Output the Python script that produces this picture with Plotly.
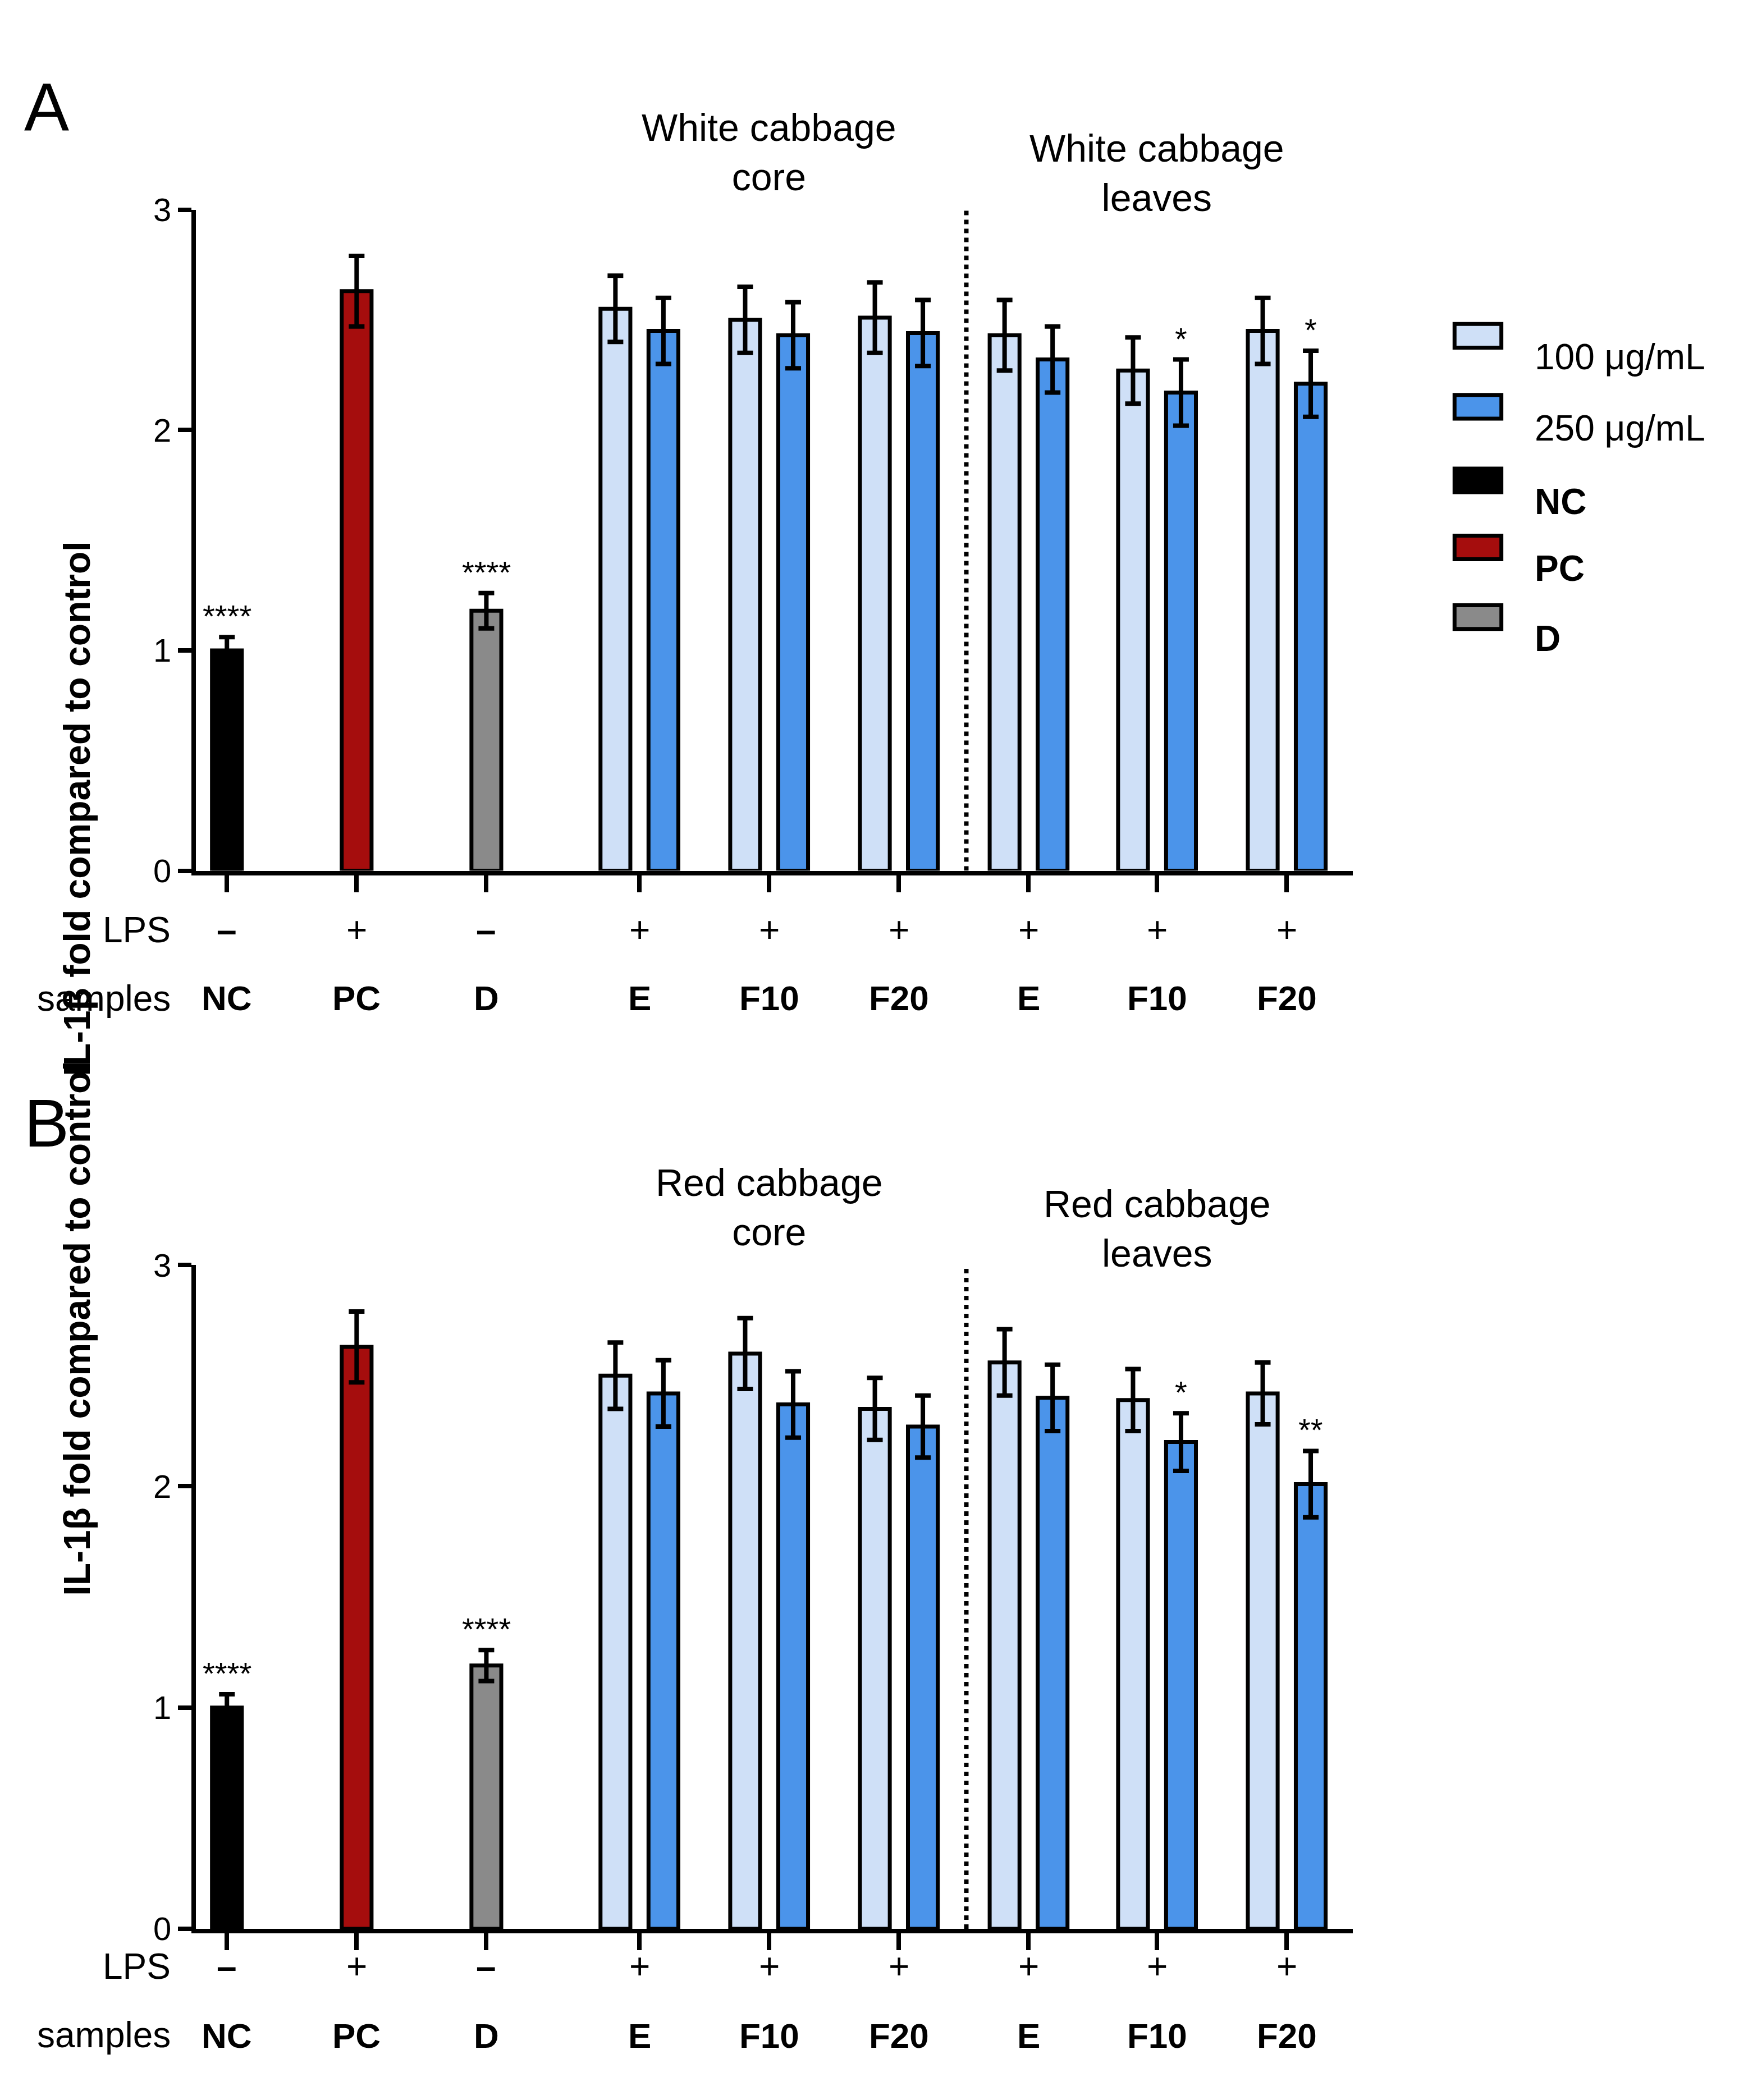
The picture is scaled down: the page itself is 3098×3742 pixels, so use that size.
import plotly.graph_objects as go

# group centres (units of one group spacing)
centers = [0, 1, 2, 3.18, 4.18, 5.18, 6.18, 7.17, 8.17]
samples = ["NC", "PC", "D", "E", "F10", "F20", "E", "F10", "F20"]
lps = ["–", "+", "–", "+", "+", "+", "+", "+", "+"]

ctrl_names = ["NC", "PC", "D"]
ctrl_colors = ["#000000", "#a50d0d", "#8a8a8a"]

a_ctrl = [1.00, 2.63, 1.18]
a_ctrl_err = [0.06, 0.16, 0.08]
a_100 = [2.55, 2.50, 2.51, 2.43, 2.27, 2.45]
a_100_err = [0.15, 0.15, 0.16, 0.16, 0.15, 0.15]
a_250 = [2.45, 2.43, 2.44, 2.32, 2.17, 2.21]
a_250_err = [0.15, 0.15, 0.15, 0.15, 0.15, 0.15]

b_ctrl = [1.00, 2.63, 1.19]
b_ctrl_err = [0.06, 0.16, 0.07]
b_100 = [2.50, 2.60, 2.35, 2.56, 2.39, 2.42]
b_100_err = [0.15, 0.16, 0.14, 0.15, 0.14, 0.14]
b_250 = [2.42, 2.37, 2.27, 2.40, 2.20, 2.01]
b_250_err = [0.15, 0.15, 0.14, 0.15, 0.13, 0.15]

legend_names = ["100 μg/mL", "250 μg/mL", "<b>NC</b>", "<b>PC</b>", "<b>D</b>"]

W, H = 3098, 3742
FONT = "Liberation Sans, Arial"
LIGHT = "#cfe0f7"
BLUE = "#4b94ea"
legend_colors = [LIGHT, BLUE] + ctrl_colors

fig = go.Figure()

def py(p):  # displayed-pixel y -> paper
    return 1 - p / 1570.0

def px_(p):
    return p / 1300.0

panels = [
    dict(ctrl=a_ctrl, cerr=a_ctrl_err, v1=a_100, e1=a_100_err, v2=a_250, e2=a_250_err,
         top=142, bot=645, ax="", letter="A", core="White cabbage<br>core", leaves="White cabbage<br>leaves",
         stars={0: "****", 2: "****", (7, 2): "*", (8, 2): "*"}),
    dict(ctrl=b_ctrl, cerr=b_ctrl_err, v1=b_100, e1=b_100_err, v2=b_250, e2=b_250_err,
         top=945, bot=1450, ax="2", letter="B", core="Red cabbage<br>core", leaves="Red cabbage<br>leaves",
         stars={0: "****", 2: "****", (7, 2): "*", (8, 2): "**"}),
]

off = 0.185
bw = 0.23
for k, p in enumerate(panels):
    xa, ya = "x" + p["ax"], "y" + p["ax"]
    err = lambda e: dict(type="data", array=e, color="black", thickness=8, width=14)
    for i in range(3):
        fig.add_trace(go.Bar(x=[centers[i]], y=[p["ctrl"][i]], width=bw, xaxis=xa, yaxis=ya,
                             marker=dict(color=ctrl_colors[i], line=dict(color="black", width=7)),
                             error_y=err([p["cerr"][i]]), showlegend=False))
    fig.add_trace(go.Bar(x=[c - off for c in centers[3:]], y=p["v1"], width=bw, xaxis=xa, yaxis=ya,
                         marker=dict(color=LIGHT, line=dict(color="black", width=7)),
                         error_y=err(p["e1"]), showlegend=False))
    fig.add_trace(go.Bar(x=[c + off for c in centers[3:]], y=p["v2"], width=bw, xaxis=xa, yaxis=ya,
                         marker=dict(color=BLUE, line=dict(color="black", width=7)),
                         error_y=err(p["e2"]), showlegend=False))
    # stars
    for key, s in p["stars"].items():
        if isinstance(key, tuple):
            g = key[0]
            x = centers[g] + off
            y = p["v2"][g - 3] + p["e2"][g - 3]
        else:
            x = centers[key]
            y = p["ctrl"][key] + p["cerr"][key]
        fig.add_annotation(x=x, y=y, xref=xa, yref=ya, text=s, showarrow=False, yanchor="bottom",
                           yshift=4, font=dict(size=56, color="black", family=FONT))
    # dotted separator
    fig.add_shape(type="line", x0=5.70, x1=5.70, y0=0, y1=3, xref=xa, yref=ya,
                  line=dict(color="black", width=8, dash="dot"))
    # group titles
    fig.add_annotation(x=centers[4], y=py(p["top"] - 8), xref=xa, yref="paper", yanchor="bottom",
                       text=p["core"], showarrow=False, font=dict(size=68, family=FONT, color="black"))
    fig.add_annotation(x=centers[7], y=py(p["top"] + 8), xref=xa, yref="paper", yanchor="bottom",
                       text=p["leaves"], showarrow=False, font=dict(size=68, family=FONT, color="black"))
    # LPS / samples rows
    ylps = py(p["bot"] + 45)
    ysam = py(p["bot"] + 97)
    fig.add_annotation(x=px_(125), y=ylps, xref="paper", yref="paper", text="LPS", showarrow=False,
                       xanchor="right", font=dict(size=64, family=FONT, color="black"))
    fig.add_annotation(x=px_(125), y=ysam, xref="paper", yref="paper", text="samples", showarrow=False,
                       xanchor="right", font=dict(size=64, family=FONT, color="black"))
    for c, l, s in zip(centers, lps, samples):
        fig.add_annotation(x=c, y=ylps, xref=xa, yref="paper", text="<b>%s</b>" % l if l == "–" else l,
                           showarrow=False, font=dict(size=64, family=FONT, color="black"))
        fig.add_annotation(x=c, y=ysam, xref=xa, yref="paper", text="<b>%s</b>" % s,
                           showarrow=False, font=dict(size=62, family=FONT, color="black"))
    fig.add_annotation(x=px_(14), y=py(p["top"] - 108), xref="paper", yref="paper", text=p["letter"],
                       showarrow=False, xanchor="left", font=dict(size=120, family=FONT, color="black"))
    fig.add_annotation(x=px_(38), y=(py(p["bot"]) + py(p["top"])) / 2, xref="paper", yref="paper",
                       text="<b>IL-1β fold compared to control</b>", textangle=-90, showarrow=False,
                       font=dict(size=66, family=FONT, color="black"))

# manual legend
for i, (name, col) in enumerate(zip(legend_names, legend_colors)):
    yc = [238, 292, 348, 399, 452][i]
    fig.add_shape(type="rect", xref="paper", yref="paper", x0=px_(1084), x1=px_(1119),
                  y0=py(yc + 9), y1=py(yc - 9), fillcolor=col, line=dict(color="black", width=7))
    fig.add_annotation(x=px_(1143), y=py(yc), xref="paper", yref="paper", text=name, showarrow=False,
                       xanchor="left", font=dict(size=64, family=FONT, color="black"))

axis_common = dict(showgrid=False, zeroline=False, linecolor="black", linewidth=8, ticks="outside",
                   tickwidth=8, tickcolor="black", tickfont=dict(size=60, family=FONT, color="black"))
x_dom = [143 / 1300, 1008 / 1300]
for k, p in enumerate(panels):
    sfx = "" if k == 0 else "2"
    fig.update_layout(**{
        "xaxis" + sfx: dict(axis_common, domain=x_dom, range=[-0.24, 8.68], tickvals=centers,
                            showticklabels=False, ticklen=30, anchor="y" + sfx),
        "yaxis" + sfx: dict(axis_common, domain=[py(p["bot"]), py(p["top"])], range=[0, 3],
                            tickvals=[0, 1, 2, 3], ticklen=24, anchor="x" + sfx,
                            tickfont=dict(size=58, family=FONT, color="black")),
    })

fig.update_layout(
    width=W, height=H, margin=dict(l=0, r=0, t=0, b=0),
    plot_bgcolor="white", paper_bgcolor="white", barmode="overlay", showlegend=False,
)

fig.write_html("out.html")
